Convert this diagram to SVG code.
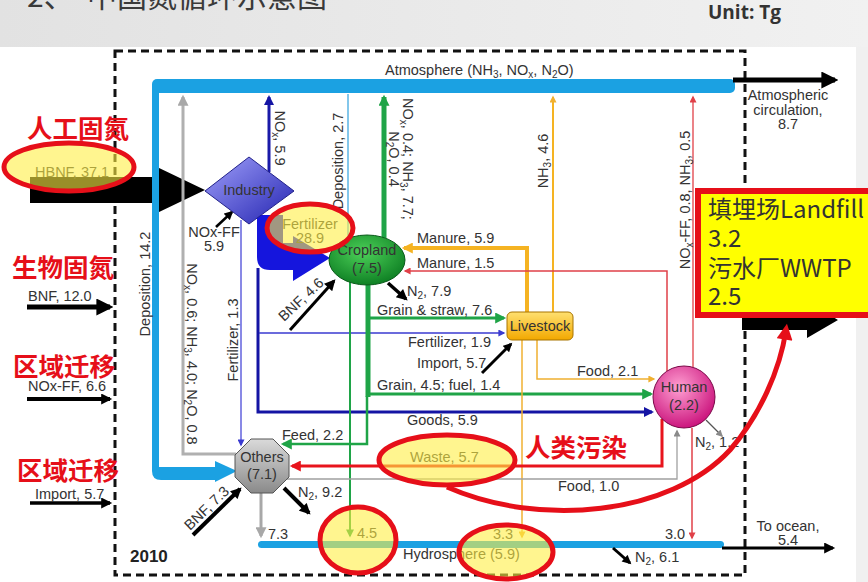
<svg xmlns="http://www.w3.org/2000/svg" width="868" height="582" viewBox="0 0 868 582">
<defs>
<linearGradient id="bgTop" x1="0" y1="0" x2="1" y2="0"><stop offset="0" stop-color="#e2e2e2"/><stop offset="1" stop-color="#f1f1f1"/></linearGradient>
<linearGradient id="gInd" x1="0" y1="0" x2="1" y2="1"><stop offset="0" stop-color="#a0a0fa"/><stop offset="1" stop-color="#2222b0"/></linearGradient>
<radialGradient id="gCrop" cx="0.45" cy="0.35" r="0.7"><stop offset="0" stop-color="#4cd058"/><stop offset="1" stop-color="#0a7a20"/></radialGradient>
<linearGradient id="gLive" x1="0" y1="0" x2="0" y2="1"><stop offset="0" stop-color="#ffe070"/><stop offset="1" stop-color="#f2a800"/></linearGradient>
<radialGradient id="gHum" cx="0.42" cy="0.35" r="0.7"><stop offset="0" stop-color="#ffa0d2"/><stop offset="1" stop-color="#c80c78"/></radialGradient>
<linearGradient id="gOth" x1="0" y1="0" x2="0" y2="1"><stop offset="0" stop-color="#dadada"/><stop offset="1" stop-color="#8a8a8a"/></linearGradient>
<marker id="mg" viewBox="0 0 10 10" refX="8" refY="5" markerWidth="12" markerHeight="11" markerUnits="userSpaceOnUse" orient="auto"><path d="M0,0L10,5L0,10Z" fill="#1fa447"/></marker>
<marker id="mgs" viewBox="0 0 10 10" refX="8" refY="5" markerWidth="9" markerHeight="8" markerUnits="userSpaceOnUse" orient="auto"><path d="M0,0L10,5L0,10Z" fill="#1fa447"/></marker>
<marker id="mo" viewBox="0 0 10 10" refX="8" refY="5" markerWidth="12" markerHeight="11" markerUnits="userSpaceOnUse" orient="auto"><path d="M0,0L10,5L0,10Z" fill="#f5b322"/></marker>
<marker id="mos" viewBox="0 0 10 10" refX="8" refY="5" markerWidth="8" markerHeight="7" markerUnits="userSpaceOnUse" orient="auto"><path d="M0,0L10,5L0,10Z" fill="#f0b030"/></marker>
<marker id="mr" viewBox="0 0 10 10" refX="8" refY="5" markerWidth="12" markerHeight="11" markerUnits="userSpaceOnUse" orient="auto"><path d="M0,0L10,5L0,10Z" fill="#e8141c"/></marker>
<marker id="mrs" viewBox="0 0 10 10" refX="8" refY="5" markerWidth="8" markerHeight="7" markerUnits="userSpaceOnUse" orient="auto"><path d="M0,0L10,5L0,10Z" fill="#e04048"/></marker>
<marker id="mb" viewBox="0 0 10 10" refX="8" refY="5" markerWidth="11" markerHeight="10" markerUnits="userSpaceOnUse" orient="auto"><path d="M0,0L10,5L0,10Z" fill="#1414a4"/></marker>
<marker id="mbs" viewBox="0 0 10 10" refX="8" refY="5" markerWidth="8" markerHeight="7" markerUnits="userSpaceOnUse" orient="auto"><path d="M0,0L10,5L0,10Z" fill="#3a3ad0"/></marker>
<marker id="my" viewBox="0 0 10 10" refX="8" refY="5" markerWidth="12" markerHeight="11" markerUnits="userSpaceOnUse" orient="auto"><path d="M0,0L10,5L0,10Z" fill="#a8a8a8"/></marker>
<marker id="mys" viewBox="0 0 10 10" refX="8" refY="5" markerWidth="8" markerHeight="7" markerUnits="userSpaceOnUse" orient="auto"><path d="M0,0L10,5L0,10Z" fill="#8a8a8a"/></marker>
<marker id="mk" viewBox="0 0 10 10" refX="8" refY="5" markerWidth="17" markerHeight="17" markerUnits="userSpaceOnUse" orient="auto"><path d="M0,0L10,5L0,10Z" fill="#000"/></marker>
<marker id="mkm" viewBox="0 0 10 10" refX="8" refY="5" markerWidth="13" markerHeight="11" markerUnits="userSpaceOnUse" orient="auto"><path d="M0,0L10,5L0,10Z" fill="#000"/></marker>
<marker id="mks" viewBox="0 0 10 10" refX="8" refY="5" markerWidth="10" markerHeight="9" markerUnits="userSpaceOnUse" orient="auto"><path d="M0,0L10,5L0,10Z" fill="#000"/></marker>
<marker id="mrb" viewBox="0 0 10 10" refX="6" refY="5" markerWidth="18" markerHeight="16" markerUnits="userSpaceOnUse" orient="auto"><path d="M0,0L10,5L0,10Z" fill="#e60f19"/></marker>
</defs>
<style>
.t{font-family:"Liberation Sans",Arial,sans-serif;font-size:14.5px;fill:#333}
.s{font-size:10px}
.cn{font-family:"Noto Sans CJK SC",sans-serif;font-weight:bold;font-size:25.5px;fill:#e60f19}
.box{font-family:"Noto Sans CJK SC",sans-serif;font-size:24px;fill:#333}
.mid{text-anchor:middle}
.ln{fill:none}
.ring{fill:#ffee44;fill-opacity:0.6;stroke:#e60f19;stroke-width:5}
</style>

<!-- background -->
<rect x="0" y="0" width="868" height="47" fill="url(#bgTop)"/>
<rect x="0" y="47" width="856" height="535" fill="#ffffff"/>
<rect x="856" y="47" width="12" height="535" fill="#f0f0f0"/>
<text x="27" y="7" font-family="Noto Sans CJK SC, sans-serif" font-size="30" fill="#3a3a3a">2、<tspan x="87">中国氮循环示意图</tspan></text>
<text x="708" y="19" font-family="Open Sans, sans-serif" font-weight="bold" font-size="19" fill="#333">Unit: Tg</text>

<!-- system boundary -->
<rect x="115" y="51" width="630" height="524" fill="none" stroke="#111" stroke-width="3" stroke-dasharray="8 5"/>
<text x="130" y="562" font-family="Liberation Sans, Arial, sans-serif" font-weight="bold" font-size="17" fill="#222">2010</text>

<g id="atmosphere">
<rect x="152" y="79" width="583" height="14" rx="5" fill="#1ba1e2"/>
<text class="t" x="385" y="75">Atmosphere (NH<tspan class="s" dy="3">3</tspan><tspan dy="-3">, NO</tspan><tspan class="s" dy="3">x</tspan><tspan dy="-3">, N</tspan><tspan class="s" dy="3">2</tspan><tspan dy="-3">O)</tspan></text>
</g>
<g id="hydrosphere">
<rect x="258" y="541" width="466" height="7" rx="3.5" fill="#1ba1e2"/>
<text class="t" x="403" y="559">Hydrosphere (5.9)</text>
</g>

<g id="connectors">
<!-- HBNF -->
<path d="M30,177 H157 V167 L205,190 L157,213 V203 H30 Z" fill="#000"/>
<text class="t" x="35" y="177" fill="#555">HBNF, 37.1</text>
<!-- inputs -->
<line x1="27" y1="307" x2="110" y2="307" stroke="#000" stroke-width="5" marker-end="url(#mk)"/>
<text class="t" x="28" y="301">BNF, 12.0</text>
<line x1="27" y1="399" x2="110" y2="399" stroke="#000" stroke-width="4" marker-end="url(#mkm)"/>
<text class="t" x="28" y="391">NOx-FF, 6.6</text>
<line x1="30" y1="503" x2="110" y2="503" stroke="#000" stroke-width="3.5" marker-end="url(#mkm)"/>
<text class="t" x="35" y="499">Import, 5.7</text>
<!-- atmospheric circulation -->
<line x1="733" y1="80" x2="835" y2="80" stroke="#000" stroke-width="5" marker-end="url(#mk)"/>
<text class="t mid" x="788" y="100">Atmospheric</text>
<text class="t mid" x="788" y="115">circulation,</text>
<text class="t mid" x="788" y="129">8.7</text>
<!-- deposition 14.2 -->
<path d="M152,86 H159 V467 H215 V461 L237,471 L215,482 V480 H161 Q152,480 152,471 Z" fill="#1ba1e2"/>
<text class="t mid" transform="translate(150,284) rotate(-90)">Deposition, 14.2</text>
<!-- others emissions -->
<path class="ln" d="M236,454 H183 V97" stroke="#b0b0b0" stroke-width="3" marker-end="url(#my)"/>
<text class="t mid" transform="translate(187,354) rotate(90)">NO<tspan class="s" dy="3">x</tspan><tspan dy="-3">, 0.6; NH</tspan><tspan class="s" dy="3">3</tspan><tspan dy="-3">, 4.0; N</tspan><tspan class="s" dy="3">2</tspan><tspan dy="-3">O, 0.8</tspan></text>
<!-- industry flows -->
<line x1="269" y1="172" x2="269" y2="97" stroke="#1a1aa8" stroke-width="3" marker-end="url(#mb)"/>
<text class="t mid" transform="translate(275,138) rotate(90)">NO<tspan class="s" dy="3">x</tspan><tspan dy="-3">, 5.9</tspan></text>
<line x1="241" y1="220" x2="241" y2="445" stroke="#4a4ad8" stroke-width="1.3" marker-end="url(#mbs)"/>
<text class="t mid" transform="translate(238,340) rotate(-90)">Fertilizer, 1.3</text>
<line x1="216" y1="227" x2="232" y2="212" stroke="#000" stroke-width="2.5" marker-end="url(#mks)"/>
<text class="t mid" x="214" y="237">NOx-FF</text>
<text class="t mid" x="214" y="251">5.9</text>
<path d="M257,215 H283 V243 H293 V236 L330,258 L293,281 V270 H270 Q257,270 257,257 Z" fill="#1515dd"/>
<text class="t mid" x="310" y="229">Fertilizer</text>
<text class="t mid" x="310" y="243">28.9</text>
<path class="ln" d="M258,268 V412 H652" stroke="#1414a4" stroke-width="3" marker-end="url(#mb)"/>
<text class="t" x="407" y="425">Goods, 5.9</text>
<path class="ln" d="M259,333 H504" stroke="#3a3ad0" stroke-width="1.5" marker-end="url(#mbs)"/>
<text class="t" x="408" y="347">Fertilizer, 1.9</text>
<!-- cropland flows -->
<line x1="348" y1="94" x2="348" y2="238" stroke="#5ab4e5" stroke-width="1.5"/>
<text class="t mid" transform="translate(343,161) rotate(-90)">Deposition, 2.7</text>
<line x1="384" y1="238" x2="384" y2="97" stroke="#1fa447" stroke-width="5" marker-end="url(#mg)"/>
<text class="t mid" transform="translate(403,159) rotate(90)"><tspan x="0" y="0">NO<tspan class="s" dy="3">x</tspan><tspan dy="-3">, 0.4; NH</tspan><tspan class="s" dy="3">3</tspan><tspan dy="-3">, 7.7;</tspan></tspan><tspan x="0" y="14">N<tspan class="s" dy="3">2</tspan><tspan dy="-3">O, 0.4</tspan></tspan></text>
<line x1="350" y1="282" x2="350" y2="536" stroke="#1fa447" stroke-width="2" marker-end="url(#mgs)"/>
<text class="t" x="357" y="538">4.5</text>
<line x1="368" y1="284" x2="368" y2="397" stroke="#1fa447" stroke-width="5"/>
<path class="ln" d="M368,394 H651" stroke="#1fa447" stroke-width="3" marker-end="url(#mg)"/>
<text class="t" x="377" y="390">Grain, 4.5; fuel, 1.4</text>
<path class="ln" d="M368,318 H504" stroke="#1fa447" stroke-width="3" marker-end="url(#mg)"/>
<text class="t" x="377" y="315">Grain &amp; straw, 7.6</text>
<path class="ln" d="M367,396 V444 H283" stroke="#1fa447" stroke-width="2.5" marker-end="url(#mg)"/>
<text class="t" x="282" y="440">Feed, 2.2</text>
<line x1="388" y1="283" x2="406" y2="299" stroke="#000" stroke-width="3.5" marker-end="url(#mkm)"/>
<text class="t" x="407" y="296">N<tspan class="s" dy="3">2</tspan><tspan dy="-3">, 7.9</tspan></text>
<line x1="290" y1="330" x2="334" y2="281" stroke="#000" stroke-width="3" marker-end="url(#mkm)"/>
<text class="t" transform="translate(284,322) rotate(-43)">BNF, 4.6</text>
<!-- livestock flows -->
<path class="ln" d="M527,312 V248 H404" stroke="#f5b322" stroke-width="4" marker-end="url(#mo)"/>
<text class="t" x="417" y="243">Manure, 5.9</text>
<line x1="553" y1="312" x2="553" y2="97" stroke="#f5b322" stroke-width="2" marker-end="url(#mos)"/>
<text class="t mid" transform="translate(548,161) rotate(-90)">NH<tspan class="s" dy="3">3</tspan><tspan dy="-3">, 4.6</tspan></text>
<path class="ln" d="M537,340 V379 H654" stroke="#f0b030" stroke-width="1.5" marker-end="url(#mos)"/>
<text class="t" x="577" y="376">Food, 2.1</text>
<line x1="522" y1="340" x2="522" y2="537" stroke="#f0b030" stroke-width="1.5" marker-end="url(#mos)"/>
<text class="t" x="493" y="539">3.3</text>
<line x1="482" y1="373" x2="511" y2="344" stroke="#000" stroke-width="3" marker-end="url(#mks)"/>
<text class="t" x="417" y="368">Import, 5.7</text>
<!-- human flows -->
<path class="ln" d="M667,371 V271 H405" stroke="#e04048" stroke-width="1.5" marker-end="url(#mrs)"/>
<text class="t" x="417" y="268">Manure, 1.5</text>
<line x1="693" y1="367" x2="693" y2="97" stroke="#e04048" stroke-width="1.3" marker-end="url(#mrs)"/>
<text class="t mid" transform="translate(690,200) rotate(-90)">NO<tspan class="s" dy="3">x</tspan><tspan dy="-3">-FF, 0.8, NH</tspan><tspan class="s" dy="3">3</tspan><tspan dy="-3">, 0.5</tspan></text>
<path class="ln" d="M662,419 V466 H292" stroke="#e8141c" stroke-width="3" marker-end="url(#mr)"/>
<text class="t" x="410" y="462">Waste, 5.7</text>
<path class="ln" d="M287,479 H677 V431" stroke="#a0a0a0" stroke-width="1.3" marker-end="url(#mys)"/>
<text class="t" x="558" y="491">Food, 1.0</text>
<line x1="692" y1="428" x2="692" y2="538" stroke="#e04048" stroke-width="1.5" marker-end="url(#mrs)"/>
<text class="t" x="665" y="539">3.0</text>
<line x1="706" y1="420" x2="722" y2="436" stroke="#555" stroke-width="1.3" marker-end="url(#mys)"/>
<text class="t" x="695" y="447">N<tspan class="s" dy="3">2</tspan><tspan dy="-3">, 1.2</tspan></text>
<!-- others flows -->
<line x1="261" y1="493" x2="261" y2="536" stroke="#a8a8a8" stroke-width="3" marker-end="url(#my)"/>
<text class="t" x="268" y="539">7.3</text>
<line x1="193" y1="535" x2="240" y2="489" stroke="#000" stroke-width="4" marker-end="url(#mkm)"/>
<text class="t" transform="translate(190,531) rotate(-44)">BNF, 7.3</text>
<line x1="284" y1="488" x2="309" y2="513" stroke="#000" stroke-width="4" marker-end="url(#mkm)"/>
<text class="t" x="298" y="497">N<tspan class="s" dy="3">2</tspan><tspan dy="-3">, 9.2</tspan></text>
<!-- hydrosphere outputs -->
<line x1="722" y1="548" x2="833" y2="548" stroke="#000" stroke-width="3" marker-end="url(#mkm)"/>
<text class="t mid" x="788" y="531">To ocean,</text>
<text class="t mid" x="788" y="545">5.4</text>
<line x1="613" y1="548" x2="630" y2="563" stroke="#000" stroke-width="3" marker-end="url(#mks)"/>
<text class="t" x="635" y="562">N<tspan class="s" dy="3">2</tspan><tspan dy="-3">, 6.1</tspan></text>
<!-- landfill / WWTP outflow -->
<path d="M742,309 H807 V301 L838,320 L807,338 V330 H742 Z" fill="#000"/>
</g>

<g id="industry">
<polygon points="249,157 294,191 249,224 205,191" fill="url(#gInd)" stroke="#22228a" stroke-width="1"/>
<text class="t mid" x="249" y="195" fill="#1a1a2a">Industry</text>
</g>
<g id="cropland">
<ellipse cx="367" cy="260" rx="38" ry="25" fill="url(#gCrop)" stroke="#0a5a1a" stroke-width="1"/>
<text class="t mid" x="367" y="255" fill="#132a13">Cropland</text>
<text class="t mid" x="367" y="273" fill="#132a13">(7.5)</text>
</g>
<g id="livestock">
<rect x="507" y="312" width="66" height="28" rx="5" fill="url(#gLive)" stroke="#a87400" stroke-width="1"/>
<text class="t mid" x="540" y="331" fill="#222">Livestock</text>
</g>
<g id="human">
<circle cx="684" cy="397" r="31" fill="url(#gHum)" stroke="#7a0a48" stroke-width="1"/>
<text class="t mid" x="684" y="392" fill="#333">Human</text>
<text class="t mid" x="684" y="410" fill="#333">(2.2)</text>
</g>
<g id="others">
<polygon points="251,439 273,439 289,455 289,477 273,493 251,493 235,477 235,455" fill="url(#gOth)" stroke="#555" stroke-width="1"/>
<text class="t mid" x="262" y="462">Others</text>
<text class="t mid" x="262" y="479">(7.1)</text>
</g>

<g id="annotations">
<ellipse class="ring" cx="69" cy="167" rx="65" ry="24"/>
<ellipse class="ring" cx="310" cy="228" rx="43" ry="24"/>
<ellipse class="ring" cx="447" cy="460" rx="68" ry="25"/>
<ellipse class="ring" cx="358" cy="540" rx="38" ry="33"/>
<ellipse class="ring" cx="506" cy="552" rx="47" ry="27"/>
<text class="cn" x="27" y="138">人工固氮</text>
<text class="cn" x="12" y="277">生物固氮</text>
<text class="cn" x="13" y="376">区域迁移</text>
<text class="cn" x="17" y="480">区域迁移</text>
<text class="cn" x="525" y="457">人类污染</text>
<path class="ln" d="M447,487 C540,528 670,515 730,450 C760,415 780,370 786,330" stroke="#e60f19" stroke-width="5" marker-end="url(#mrb)"/>
<rect x="698" y="191" width="175" height="124" fill="#ffff00" stroke="#e60f19" stroke-width="6"/>
<text class="box" x="708" y="218">填埋场Landfill</text>
<text class="box" x="708" y="247">3.2</text>
<text class="box" x="708" y="277">污水厂WWTP</text>
<text class="box" x="708" y="305">2.5</text>
</g>
</svg>
